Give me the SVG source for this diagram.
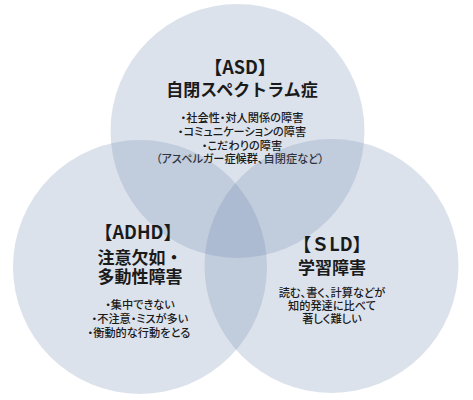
<svg xmlns="http://www.w3.org/2000/svg" width="473" height="400" viewBox="0 0 473 400">
<style>
.c{fill:#6d84b0;fill-opacity:0.24}
text{font-family:"Noto Sans CJK JP","Noto Sans",sans-serif;fill:#1a1a1a;text-anchor:middle}
.t{font-size:18px;font-weight:700}
.h{font-size:17px;font-weight:700}
.b{font-size:11.2px;font-weight:500;font-feature-settings:"palt"}
</style>
<rect width="473" height="400" fill="#ffffff"/>
<g id="asd">
<circle class="c" cx="237.5" cy="131" r="127"/>
<text class="t" x="240" y="74">【ASD】</text>
<text class="h" x="242" y="96">自閉スペクトラム症</text>
<text class="b"><tspan x="242" y="122">・社会性・対人関係の障害</tspan><tspan x="242" y="136">・コミュニケーションの障害</tspan><tspan x="242" y="149.5">・こだわりの障害</tspan><tspan x="240" y="163">（アスペルガー症候群、自閉症など）</tspan></text>
</g>
<g id="adhd">
<circle class="c" cx="140" cy="267" r="127"/>
<text class="t" x="138" y="239">【ADHD】</text>
<text class="h"><tspan x="140" y="264">注意欠如・</tspan><tspan x="140" y="283">多動性障害</tspan></text>
<text class="b"><tspan x="140" y="309">・集中できない</tspan><tspan x="140" y="323">・不注意・ミスが多い</tspan><tspan x="139" y="337">・衡動的な行動をとる</tspan></text>
</g>
<g id="sld">
<circle class="c" cx="331.5" cy="266" r="127"/>
<text class="t" x="332" y="251">【ＳLD】</text>
<text class="h" x="332" y="274">学習障害</text>
<text class="b"><tspan x="332" y="297">読む、書く、計算などが</tspan><tspan x="332" y="310">知的発達に比べて</tspan><tspan x="332" y="323">著しく難しい</tspan></text>
</g>
<g id="connectors"></g>
</svg>
